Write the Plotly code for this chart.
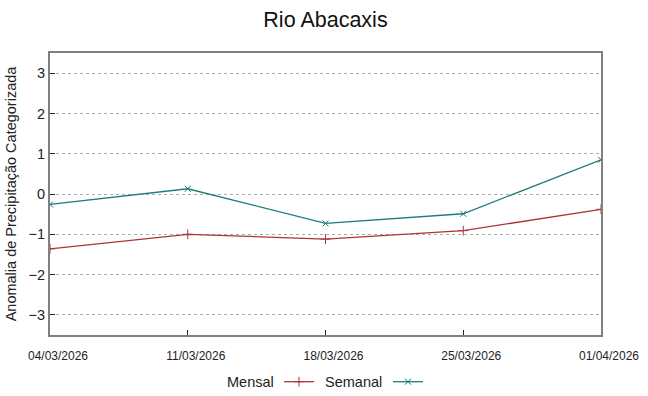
import plotly.graph_objects as go

dates = ["2026-03-04", "2026-03-11", "2026-03-18", "2026-03-25", "2026-04-01"]
tick_labels = ["04/03/2026", "11/03/2026", "18/03/2026", "25/03/2026", "01/04/2026"]
mensal = [-1.36, -1.00, -1.12, -0.91, -0.38]
semanal = [-0.26, 0.13, -0.73, -0.49, 0.85]

red = "#ac3438"
teal = "#1f7a7a"
font = "Liberation Sans, Arial, sans-serif"

fig = go.Figure()
fig.add_trace(go.Scatter(x=dates, y=mensal, mode="lines+markers", name="",
                         line=dict(color=red, width=1.3),
                         marker=dict(symbol="cross-thin", size=7, line=dict(color=red, width=1)),
                         legend="legend"))
fig.add_trace(go.Scatter(x=dates, y=semanal, mode="lines+markers", name="",
                         line=dict(color=teal, width=1.3),
                         marker=dict(symbol="x-thin", size=6, line=dict(color=teal, width=1)),
                         legend="legend2"))

leg_y = -0.167
fig.update_layout(
    width=648, height=396,
    margin=dict(l=50, r=47, t=53, b=61, autoexpand=False),
    paper_bgcolor="white", plot_bgcolor="white",
    font=dict(family=font, color="#222222"),
    title=dict(text="Rio Abacaxis", x=0.5, xanchor="center", xref="paper",
               y=1 - 19 / 396, yanchor="middle",
               font=dict(size=21.5, color="#111111")),
    showlegend=True,
    legend=dict(x=0.4156, xanchor="left", xref="paper", y=leg_y, yanchor="middle",
                orientation="h", bgcolor="rgba(0,0,0,0)",
                font=dict(size=14)),
    legend2=dict(x=0.6134, xanchor="left", xref="paper", y=leg_y, yanchor="middle",
                 orientation="h", bgcolor="rgba(0,0,0,0)",
                 font=dict(size=14)),
)

fig.update_xaxes(
    type="date", range=[dates[0], dates[-1]],
    tickvals=dates, ticktext=tick_labels,
    tickfont=dict(size=12, color="#222222"),
    ticklabelstandoff=9, ticklabelshift=8,
    showgrid=False, zeroline=False,
    showline=True, linecolor="#808080", linewidth=2, mirror=True,
    ticks="inside", ticklen=5, tickcolor="#222222",
)
fig.update_yaxes(
    range=[-3.5, 3.5], tickvals=[-3, -2, -1, 0, 1, 2, 3],
    tickfont=dict(size=14.5, color="#222222"),
    showgrid=True, gridcolor="#aaaaaa", griddash="dot", gridwidth=1,
    zeroline=False,
    showline=True, linecolor="#808080", linewidth=2, mirror=True,
    ticks="inside", ticklen=5, tickcolor="#222222",
    title=dict(text="Anomalia de Precipitação Categorizada", font=dict(size=14.5, color="#222222"),
               standoff=8),
)

fig.add_annotation(text="Mensal", xref="paper", yref="paper", x=0.363, y=leg_y,
                   xanchor="center", yanchor="middle",
                   showarrow=False, font=dict(size=14.5, color="#222222"))
fig.add_annotation(text="Semanal", xref="paper", yref="paper", x=0.55, y=leg_y,
                   xanchor="center", yanchor="middle",
                   showarrow=False, font=dict(size=14.5, color="#222222"))

fig.write_html("out.html", config={"displayModeBar": False},
               post_script="document.body.style.margin='0';document.body.style.overflow='hidden';")
